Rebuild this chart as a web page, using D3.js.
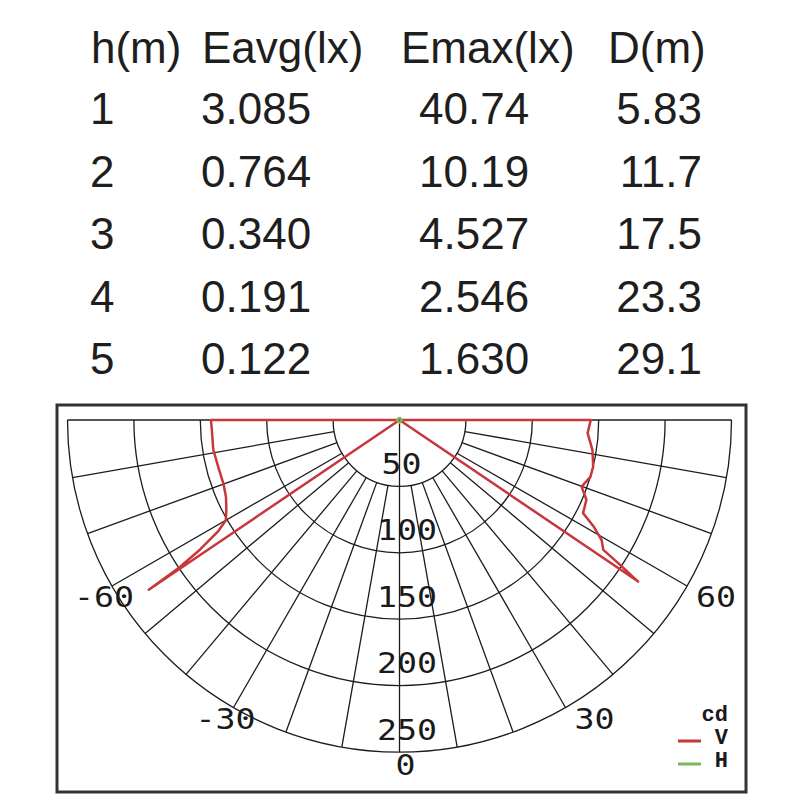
<!DOCTYPE html>
<html>
<head>
<meta charset="utf-8">
<script src="https://cdn.jsdelivr.net/npm/d3@7"></script>
<style>
  body { margin: 0; background: #fff; }
</style>
</head>
<body>
<svg id="chart" width="800" height="800"></svg>
<script>
// table values
const tableHeaders = ['h(m)', 'Eavg(lx)', 'Emax(lx)', 'D(m)'];
const heightVals = ['1', '2', '3', '4', '5'];
const eavgVals = ['3.085', '0.764', '0.340', '0.191', '0.122'];
const emaxVals = ['40.74', '10.19', '4.527', '2.546', '1.630'];
const distVals = ['5.83', '11.7', '17.5', '23.3', '29.1'];

// polar grid
const ringValues = [50, 100, 150, 200, 250];
const spokeAngles = [-90, -80, -70, -60, -50, -40, -30, -20, -10, 0, 10, 20, 30, 40, 50, 60, 70, 80, 90];
const angleLabels = [-60, -30, 0, 30, 60];

// V curve (C0-C180), angle in degrees from nadir, intensity in cd
const vAngles = [-180, -90, -87, -81, -75.5, -70, -66, -62.5, -60, -58.5, -57, -56.2, -55.9, -55,
                 55, 55.9, 56.7, 57.5, 59.3, 61.2, 63.1, 66.9, 69.9, 73.4, 76.5, 81.2, 86, 90, 180];
const vValues = [0, 142, 141.5, 142, 141, 141, 143, 147, 151, 160, 179, 199, 228, 0,
                 0, 217, 199, 182, 177, 167, 155, 153, 146, 150, 150, 147, 142, 144, 0];

// H curve is almost nothing, only a dot at the centre
const hAngles = [-180, -90, 0, 90, 180];
const hValues = [2, 2, 2, 2, 2];

const legendItems = [
  {name: 'V', color: '#c8373a'},
  {name: 'H', color: '#7ab75a'}
];

const svg = d3.select('#chart');

// ---------- table ----------
const tableFont = "'Liberation Sans', Arial, sans-serif";
const headX = [91, 202, 401, 608];
const colX = [90, 201, 419, 702];
const colAnchor = ['start', 'start', 'start', 'end'];

svg.append('g').selectAll('text')
  .data(tableHeaders)
  .enter().append('text')
  .attr('x', (d, i) => headX[i])
  .attr('y', 62.5)
  .text(d => d)
  .style('font-family', tableFont)
  .style('font-size', '44px')
  .style('fill', '#1e1e1e');

const rows = heightVals.map((h, i) => [h, eavgVals[i], emaxVals[i], distVals[i]]);

const rowG = svg.append('g').selectAll('g')
  .data(rows)
  .enter().append('g')
  .attr('transform', (d, i) => `translate(0, ${124 + i * 62.5})`);

rowG.selectAll('text')
  .data(d => d)
  .enter().append('text')
  .attr('x', (d, i) => colX[i])
  .attr('text-anchor', (d, i) => colAnchor[i])
  .text(d => d)
  .style('font-family', tableFont)
  .style('font-size', '44px')
  .style('fill', '#1e1e1e');

// ---------- frame ----------
svg.append('rect')
  .attr('x', 57).attr('y', 405)
  .attr('width', 689).attr('height', 387)
  .style('fill', 'none')
  .style('stroke', '#333')
  .style('stroke-width', 3);

// ---------- polar diagram ----------
const cx = 399.5, cy = 420;
const r = d3.scaleLinear().domain([0, 250]).range([0, 332]);
const rMax = r(250);
const toRad = a => Math.PI - a * Math.PI / 180;   // 0 = down, positive = right

const polar = svg.append('g').attr('transform', `translate(${cx}, ${cy})`);
const gridStyle = sel => sel.style('fill', 'none').style('stroke', '#1c1c1c').style('stroke-width', 1.3);

// rings (lower half circles)
polar.selectAll('path.ring')
  .data(ringValues)
  .enter().append('path')
  .attr('class', 'ring')
  .attr('d', v => {
    const p = d3.path();
    p.moveTo(r(v), 0);
    p.arc(0, 0, r(v), 0, Math.PI);
    return p.toString();
  })
  .call(gridStyle);

// spokes, starting at the first ring except 0 and +-90
polar.selectAll('line.spoke')
  .data(spokeAngles)
  .enter().append('line')
  .attr('class', 'spoke')
  .attr('x1', a => (Math.abs(a) === 90 || a === 0 ? 0 : r(ringValues[0])) * Math.sin(a * Math.PI / 180))
  .attr('y1', a => (Math.abs(a) === 90 || a === 0 ? 0 : r(ringValues[0])) * Math.cos(a * Math.PI / 180))
  .attr('x2', a => rMax * Math.sin(a * Math.PI / 180))
  .attr('y2', a => rMax * Math.cos(a * Math.PI / 180))
  .call(gridStyle);

const monoFont = "'DejaVu Sans Mono', monospace";

// ring value labels
polar.selectAll('text.ringLabel')
  .data(ringValues)
  .enter().append('text')
  .attr('class', 'ringLabel')
  .attr('transform', v => `translate(${String(v).length === 2 ? 2 : 7.5}, ${r(v) - 12.5}) scale(1.21, 1)`)
  .attr('text-anchor', 'middle')
  .text(v => v)
  .style('font-family', monoFont)
  .style('font-size', '27.5px')
  .style('fill', '#1a1a1a');

// angle labels
polar.selectAll('text.angleLabel')
  .data(angleLabels)
  .enter().append('text')
  .attr('class', 'angleLabel')
  .attr('transform', a => {
    const px = rMax * Math.sin(a * Math.PI / 180);
    const py = rMax * Math.cos(a * Math.PI / 180);
    const dx = a > 0 ? 9 : (a < 0 ? 22 : -4);
    const dy = a === 0 ? 23 : 21;
    return `translate(${px + dx}, ${py + dy}) scale(1.21, 1)`;
  })
  .attr('text-anchor', a => a < 0 ? 'end' : 'start')
  .text(a => a < 0 ? '-' + Math.abs(a) : a)
  .style('font-family', monoFont)
  .style('font-size', '27.5px')
  .style('fill', '#1a1a1a');

// curves
const radial = d3.lineRadial()
  .angle(d => toRad(d[0]))
  .radius(d => r(d[1]));

polar.append('path')
  .attr('d', radial(vAngles.map((a, i) => [a, vValues[i]])))
  .style('fill', 'none')
  .style('stroke', legendItems[0].color)
  .style('stroke-width', 2.5)
  .style('stroke-linejoin', 'round');

polar.append('path')
  .attr('d', radial(hAngles.map((a, i) => [a, hValues[i]])))
  .style('fill', 'none')
  .style('stroke', legendItems[1].color)
  .style('stroke-width', 2.2);

// ---------- legend ----------
const legend = svg.append('g').attr('transform', 'translate(678, 741)');
const legFont = "'Liberation Mono', 'Courier New', monospace";

legend.append('text')
  .attr('x', 50).attr('y', -20)
  .attr('text-anchor', 'end')
  .text('cd')
  .style('font-family', legFont)
  .style('font-size', '22px')
  .style('font-weight', 'bold')
  .style('fill', '#1a1a1a');

const legItem = legend.selectAll('g')
  .data(legendItems)
  .enter().append('g')
  .attr('transform', (d, i) => `translate(0, ${i * 23})`);

legItem.append('line')
  .attr('x1', 0).attr('x2', 23)
  .style('stroke', d => d.color)
  .style('stroke-width', 3);

legItem.append('text')
  .attr('x', 50).attr('y', 3)
  .attr('text-anchor', 'end')
  .text(d => d.name)
  .style('font-family', legFont)
  .style('font-size', '22px')
  .style('font-weight', 'bold')
  .style('fill', '#1a1a1a');
</script>
</body>
</html>
